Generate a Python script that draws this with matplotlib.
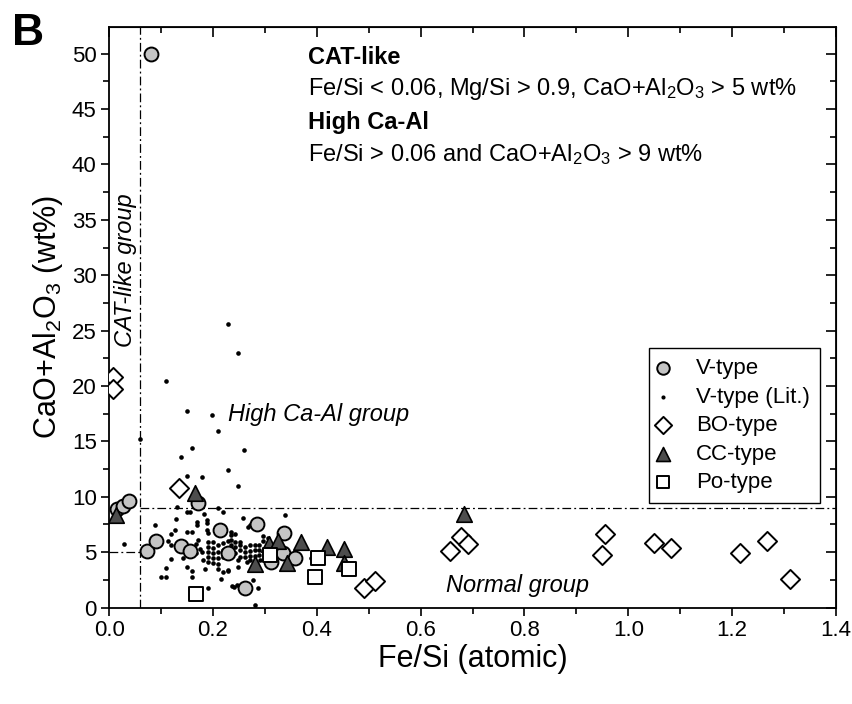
import numpy as np
import matplotlib
matplotlib.use("Agg")
import matplotlib.pyplot as plt
from matplotlib.ticker import MultipleLocator

plt.rcParams['font.family'] = ['Liberation Sans', 'DejaVu Sans']
plt.rcParams['mathtext.fontset'] = 'custom'
plt.rcParams['mathtext.rm'] = 'Liberation Sans'
plt.rcParams['mathtext.it'] = 'Liberation Sans:italic'
plt.rcParams['mathtext.bf'] = 'Liberation Sans:bold'

# V-type (grey circles)
v_fesi = [0.080, 0.015, 0.027, 0.038, 0.072, 0.090, 0.139, 0.155, 0.171, 0.213,
          0.228, 0.284, 0.262, 0.337, 0.312, 0.335, 0.357]
v_caal = [50.0, 8.87, 9.16, 9.6, 5.15, 6.05, 5.55, 5.15, 9.4, 7.0,
          4.9, 7.5, 1.72, 6.75, 4.1, 4.95, 4.43]

# V-type literature (small dots)
lit_fesi = [0.229, 0.249, 0.109, 0.149, 0.198, 0.209, 0.059, 0.159, 0.260, 0.139,
            0.229, 0.149, 0.179, 0.248, 0.028, 0.088, 0.130, 0.339,
            0.149, 0.155, 0.182, 0.210, 0.219, 0.128, 0.170, 0.170, 0.188, 0.188,
            0.126, 0.149, 0.159, 0.188, 0.191, 0.120, 0.114, 0.120, 0.171, 0.168,
            0.174, 0.178, 0.191, 0.191, 0.191, 0.191, 0.191, 0.200, 0.200, 0.200,
            0.200, 0.200, 0.210, 0.210, 0.210, 0.210, 0.220, 0.220, 0.220, 0.229,
            0.232, 0.142, 0.120, 0.159, 0.168, 0.181, 0.184, 0.149, 0.210, 0.220,
            0.109, 0.159, 0.229, 0.099, 0.109, 0.159, 0.216, 0.190, 0.240,
            0.258, 0.271, 0.268, 0.235, 0.235, 0.235, 0.235, 0.243, 0.243, 0.243,
            0.243, 0.252, 0.252, 0.252, 0.252, 0.249, 0.249, 0.262, 0.262, 0.262,
            0.265, 0.271, 0.271, 0.271, 0.271, 0.280, 0.280, 0.280, 0.288, 0.288,
            0.288, 0.291, 0.297, 0.297, 0.305, 0.228, 0.236, 0.246, 0.277, 0.287,
            0.280, 0.389]
lit_caal = [25.6, 23.0, 20.45, 17.7, 17.4, 15.9, 15.2, 14.4, 14.2, 13.6,
            12.4, 11.85, 11.75, 11.0, 5.7, 7.44, 9.1, 8.4,
            8.65, 8.65, 8.44, 8.95, 8.6, 7.96, 7.75, 7.45, 7.9, 7.6,
            7.04, 6.84, 6.84, 7.04, 6.69, 6.63, 6.0, 5.65, 6.1, 5.7,
            5.3, 5.0, 5.95, 5.5, 5.0, 4.6, 4.15, 5.95, 5.4, 4.95,
            4.5, 4.05, 5.65, 5.05, 4.45, 3.9, 5.8, 5.2, 4.6, 6.0,
            5.3, 4.49, 4.34, 4.7, 4.9, 4.3, 3.5, 3.7, 3.5, 3.2,
            3.53, 3.3, 3.3, 2.72, 2.72, 2.77, 2.6, 1.72, 1.87,
            8.05, 7.45, 7.23, 6.84, 6.54, 6.09, 5.65, 6.66, 5.9, 5.5,
            4.9, 5.94, 5.64, 5.19, 4.58, 4.28, 3.67, 5.5, 5.03, 4.52,
            4.13, 5.64, 5.1, 4.64, 4.28, 5.64, 5.19, 4.64, 5.64, 5.19,
            4.73, 4.3, 6.45, 6.0, 6.24, 3.43, 1.93, 2.02, 2.45, 1.81,
            0.22, 4.43]

# BO-type (open diamonds)
bo_fesi = [0.007, 0.007, 0.134, 0.490, 0.512, 0.656, 0.677, 0.691, 0.955, 0.950,
           1.049, 1.083, 1.216, 1.267, 1.312]
bo_caal = [20.8, 19.75, 10.76, 1.72, 2.43, 5.12, 6.33, 5.73, 6.63, 4.73,
           5.79, 5.39, 4.89, 6.03, 2.54]

# CC-type (dark triangles)
cc_fesi = [0.0125, 0.166, 0.280, 0.307, 0.325, 0.342, 0.370, 0.419, 0.453, 0.453, 0.683]
cc_caal = [8.35, 10.3, 3.9, 5.75, 6.05, 4.0, 5.95, 5.45, 5.3, 4.0, 8.44]

# Po-type (open squares)
po_fesi = [0.168, 0.309, 0.403, 0.397, 0.462]
po_caal = [1.18, 4.77, 4.49, 2.8, 3.44]

fig = plt.figure(figsize=(8.53, 7.04), dpi=100)
ax = fig.add_axes([0.128, 0.137, 0.852, 0.8245])

# group boundaries
ls = (0, (7, 2.5, 1.5, 2.5))
ax.plot([0.06, 0.06], [0, 52.4], color='black', lw=0.9, ls=ls, zorder=1)
ax.plot([0.06, 1.4], [9, 9], color='black', lw=0.9, ls=ls, zorder=1)
ax.plot([0, 0.06], [5, 5], color='black', lw=0.9, ls=ls, zorder=1)

ax.scatter(lit_fesi, lit_caal, s=11, color='black', lw=0, zorder=2, label='V-type (Lit.)')
ax.scatter(v_fesi, v_caal, s=100, marker='o', facecolor='#c4c4c4', edgecolor='black',
           lw=1.4, zorder=3, label='V-type')
ax.scatter(bo_fesi, bo_caal, s=95, marker='D', facecolor='white', edgecolor='black',
           lw=1.4, zorder=3, label='BO-type')
ax.scatter(cc_fesi, cc_caal, s=125, marker='^', facecolor='#4d4d4d', edgecolor='black',
           lw=1.2, zorder=4, label='CC-type')
ax.scatter(po_fesi, po_caal, s=95, marker='s', facecolor='white', edgecolor='black',
           lw=1.4, zorder=4, label='Po-type')

ax.set_xlim(0, 1.4)
ax.set_ylim(0, 52.4)
ax.xaxis.set_major_locator(MultipleLocator(0.2))
ax.xaxis.set_minor_locator(MultipleLocator(0.1))
ax.yaxis.set_major_locator(MultipleLocator(5))
ax.yaxis.set_minor_locator(MultipleLocator(2.5))
ax.xaxis.set_major_formatter(plt.FuncFormatter(lambda v, p: f'{v:.1f}'))
ax.tick_params(which='major', direction='out', length=6, width=1.2, labelsize=16, pad=3)
ax.tick_params(which='minor', direction='out', length=4, width=1.2)
for s in ax.spines.values():
    s.set_linewidth(1.3)

secx = ax.secondary_xaxis('top')
secx.xaxis.set_major_locator(MultipleLocator(0.2))
secx.xaxis.set_minor_locator(MultipleLocator(0.1))
secx.tick_params(which='major', direction='in', length=7, width=1.2, labeltop=False)
secx.tick_params(which='minor', direction='in', length=4, width=1.2)
secy = ax.secondary_yaxis('right')
secy.yaxis.set_major_locator(MultipleLocator(5))
secy.yaxis.set_minor_locator(MultipleLocator(2.5))
secy.tick_params(which='major', direction='in', length=7, width=1.2, labelright=False)
secy.tick_params(which='minor', direction='in', length=4, width=1.2)

ax.set_xlabel('Fe/Si (atomic)', fontsize=22, labelpad=2)
ax.set_ylabel(r'CaO+Al$_\mathregular{2}$O$_\mathregular{3}$ (wt%)', fontsize=22, labelpad=5)

# annotations
ax.text(0.383, 49.7, 'CAT-like', fontsize=17, fontweight='bold', va='center')
ax.text(0.383, 46.8, r'Fe/Si < 0.06, Mg/Si > 0.9, CaO+Al$_\mathregular{2}$O$_\mathregular{3}$ > 5 wt%',
        fontsize=17, va='center')
ax.text(0.383, 43.8, 'High Ca-Al', fontsize=17, fontweight='bold', va='center')
ax.text(0.383, 40.9, r'Fe/Si > 0.06 and CaO+Al$_\mathregular{2}$O$_\mathregular{3}$ > 9 wt%',
        fontsize=17, va='center')
ax.text(0.031, 30.5, 'CAT-like group', fontsize=17, style='italic', rotation=90,
        ha='center', va='center')
ax.text(0.228, 17.4, 'High Ca-Al group', fontsize=17, style='italic', va='center')
ax.text(0.648, 2.0, 'Normal group', fontsize=17, style='italic', va='center')

handles, labels = ax.get_legend_handles_labels()
order = ['V-type', 'V-type (Lit.)', 'BO-type', 'CC-type', 'Po-type']
hmap = dict(zip(labels, handles))
leg = ax.legend([hmap[k] for k in order], order, loc='upper right',
                bbox_to_anchor=(0.978, 0.447), borderaxespad=0, fontsize=16,
                frameon=True, fancybox=False, edgecolor='black', framealpha=1,
                handletextpad=1.35, labelspacing=0.34, borderpad=0.45,
                handlelength=0.3, markerscale=0.9)
leg.get_frame().set_linewidth(1.0)

fig.text(0.014, 0.936, 'B', fontsize=32, fontweight='bold', va='baseline')

fig.savefig('out.png', dpi=100)
